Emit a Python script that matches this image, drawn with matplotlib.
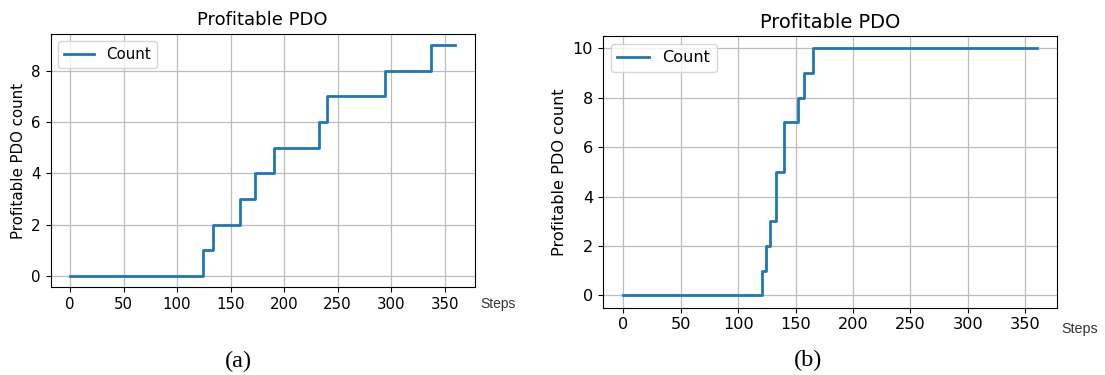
import matplotlib
matplotlib.use("Agg")
import matplotlib.pyplot as plt

# (a) step change points and counts
steps_a = [0, 124, 134, 159, 173, 191, 233, 240, 294, 337, 360]
count_a = [0, 1, 2, 3, 4, 5, 6, 7, 8, 9, 9]

# (b) step change points and counts
steps_b = [0, 121, 124, 128, 133, 140, 152, 157, 165, 360]
count_b = [0, 1, 2, 3, 5, 7, 8, 9, 10, 10]

captions = ["(a)", "(b)"]
title = "Profitable PDO"
ylabel = "Profitable PDO count"
xlabel = "Steps"

fig = plt.figure(figsize=(11.05, 3.75), dpi=100)

ax_a = fig.add_axes([0.0459, 0.2339, 0.3837, 0.6763])
ax_b = fig.add_axes([0.5454, 0.1795, 0.4114, 0.7245])


def draw_panel(ax, x, y, fs):
    ax.step(x, y, where="post", color="#1f77b4", lw=2.0, label="Count")
    ax.grid(True, color="#bdbdbd", lw=0.9)
    ax.set_axisbelow(True)
    ax.set_title(title, fontsize=fs * 1.2, pad=6)
    ax.set_ylabel(ylabel, fontsize=fs)
    ax.tick_params(labelsize=fs)
    ax.legend(loc="upper left", fontsize=fs)
    ax.set_xticks(range(0, 351, 50))


draw_panel(ax_a, steps_a, count_a, 10.8)
draw_panel(ax_b, steps_b, count_b, 11.6)

# x axis label sits to the right of the tick labels
fig.text(0.4504, 0.1893, xlabel, ha="center", va="center",
         fontsize=10, color="#333333", family="Liberation Sans")
fig.text(0.9774, 0.1227, xlabel, ha="center", va="center",
         fontsize=10.3, color="#333333", family="Liberation Sans")

# sub-figure captions
fig.text(0.2154, 0.0373, captions[0], ha="center", va="center",
         fontsize=17.5, family="Liberation Serif")
fig.text(0.7312, 0.0381, captions[1], ha="center", va="center",
         fontsize=17.5, family="Liberation Serif")

fig.savefig("out.png", dpi=100)
